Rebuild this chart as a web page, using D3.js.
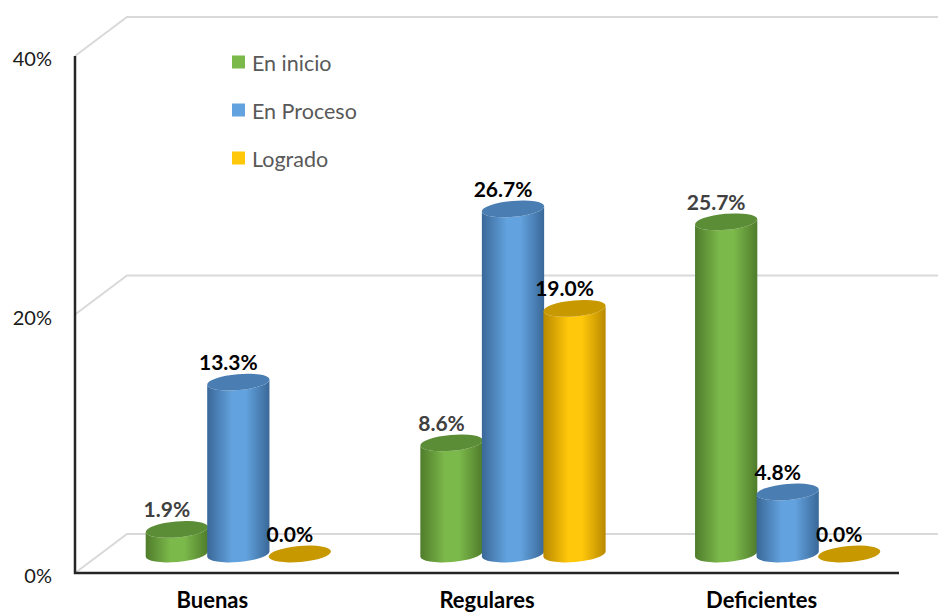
<!DOCTYPE html>
<html>
<head>
<meta charset="utf-8">
<script src="https://cdn.jsdelivr.net/npm/d3@7"></script>
<style>
  html, body { margin: 0; padding: 0; background: #fff; }
  svg { display: block; }
  text { font-family: Lato, "Open Sans", sans-serif; }
</style>
</head>
<body>
<svg id="chart" width="938" height="613"></svg>
<script>
// Data
const categories = ["Buenas", "Regulares", "Deficientes"];
const seriesNames = ["En inicio", "En Proceso", "Logrado"];
const enInicio = [1.9, 8.6, 25.7];
const enProceso = [13.3, 26.7, 4.8];
const logrado = [0.0, 19.0, 0.0];
const yTicks = [0, 20, 40];
const yTickLabels = ["0%", "20%", "40%"];

const seriesValues = [enInicio, enProceso, logrado];
const palette = [
  { edge: "#4f7c2b", mid: "#7cb94b", cap: "#5b8c36", label: "#404040" },
  { edge: "#3a6898", mid: "#62a2de", cap: "#4a7db1", label: "#000000" },
  { edge: "#b88900", mid: "#ffc80a", cap: "#c79800", label: "#000000" }
];

const svg = d3.select("#chart");

// Scales: front plane of the 3D box, plus depth offsets
const x = d3.scaleBand().domain(categories).range([75, 899]).padding(0);
const xs = d3.scaleBand().domain(seriesNames).range([-92.25, 92.25]).padding(0);
const y = d3.scaleLinear().domain([0, 40]).range([573, 56]);
const back = { dx: 52, dy: -39 };
const mid = { dx: 26, dy: -19 };

// Back wall gridlines with the diagonal side edge
const grid = svg.append("g");
yTicks.forEach(t => {
  grid.append("path")
    .attr("d", `M${x.range()[0]},${y(t)} L${x.range()[0] + back.dx},${y(t) + back.dy} L${938},${y(t) + back.dy}`)
    .attr("fill", "none")
    .attr("stroke", "#d9d9d9")
    .attr("stroke-width", 2);
});

// Gradients for the cylinders
const defs = svg.append("defs");
palette.forEach((p, i) => {
  const g = defs.append("linearGradient").attr("id", "cyl" + i)
    .attr("x1", "0%").attr("x2", "100%").attr("y1", "0%").attr("y2", "0%");
  g.append("stop").attr("offset", "0%").attr("stop-color", p.edge);
  g.append("stop").attr("offset", "40%").attr("stop-color", p.mid);
  g.append("stop").attr("offset", "62%").attr("stop-color", p.mid);
  g.append("stop").attr("offset", "100%").attr("stop-color", p.edge);
});

// Cylinders
const rx = xs.bandwidth() / 2 + 0.5;
const ry = 8;
const rot = -5;
const th = rot * Math.PI / 180;
const ex = rx * Math.cos(th), ey = rx * Math.sin(th);

const bars = svg.append("g");
categories.forEach((c, ci) => {
  seriesNames.forEach((s, si) => {
    const v = seriesValues[si][ci];
    const cx = x(c) + x.bandwidth() / 2 + xs(s) + xs.bandwidth() / 2 + mid.dx;
    const baseY = y(0) + mid.dy;
    const topY = y(v) + mid.dy;
    const p = palette[si];
    const g = bars.append("g");
    if (v > 0) {
      g.append("path")
        .attr("d",
          `M${cx - ex},${topY - ey} L${cx - ex},${baseY - ey} ` +
          `A${rx},${ry} ${rot} 0 0 ${cx + ex},${baseY + ey} ` +
          `L${cx + ex},${topY + ey} ` +
          `A${rx},${ry} ${rot} 0 1 ${cx - ex},${topY - ey} Z`)
        .attr("fill", `url(#cyl${si})`);
    }
    g.append("ellipse")
      .attr("cx", cx).attr("cy", topY)
      .attr("rx", rx).attr("ry", ry)
      .attr("transform", `rotate(${rot},${cx},${topY})`)
      .attr("fill", p.cap);
  });
});

// Value labels
const labels = svg.append("g");
categories.forEach((c, ci) => {
  seriesNames.forEach((s, si) => {
    const v = seriesValues[si][ci];
    const cx = x(c) + x.bandwidth() / 2 + xs(s) + xs.bandwidth() / 2 + mid.dx;
    labels.append("text")
      .attr("x", cx - 10)
      .attr("y", y(v) + mid.dy - 12)
      .attr("text-anchor", "middle")
      .attr("font-size", 21)
      .attr("font-weight", 700)
      .attr("fill", palette[si].label)
      .text(v.toFixed(1) + "%");
  });
});

// Front axis lines
svg.append("path")
  .attr("d", `M${x.range()[0]},${y(40)} L${x.range()[0]},${y(0)} L${x.range()[1]},${y(0)}`)
  .attr("fill", "none")
  .attr("stroke", "#262626")
  .attr("stroke-width", 2.5);

// Y tick labels
const yAxis = svg.append("g");
yTicks.forEach((t, i) => {
  yAxis.append("text")
    .attr("x", 52)
    .attr("y", y(t) + 2)
    .attr("text-anchor", "end")
    .attr("dominant-baseline", "central")
    .attr("font-size", 20)
    .attr("fill", "#1a1a1a")
    .text(yTickLabels[i]);
});

// Category labels
categories.forEach(c => {
  svg.append("text")
    .attr("x", x(c) + x.bandwidth() / 2)
    .attr("y", 608)
    .attr("text-anchor", "middle")
    .attr("font-size", 22)
    .attr("font-weight", 700)
    .attr("fill", "#000")
    .text(c);
});

// Legend
const legend = svg.append("g");
seriesNames.forEach((s, i) => {
  const cy = 62 + i * 48;
  legend.append("rect")
    .attr("x", 232).attr("y", cy - 6.5)
    .attr("width", 13).attr("height", 13)
    .attr("fill", palette[i].mid);
  legend.append("text")
    .attr("x", 252).attr("y", cy + 1)
    .attr("dominant-baseline", "central")
    .attr("font-size", 21.5)
    .attr("fill", "#595959")
    .text(s);
});
</script>
</body>
</html>
